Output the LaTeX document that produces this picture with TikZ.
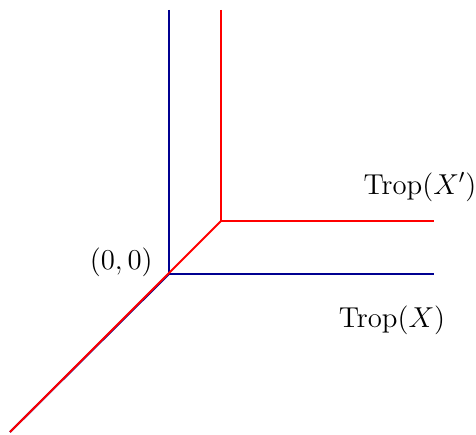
\documentclass[tikz,border=0pt]{standalone}
\usepackage{amsmath,amssymb}
\usepackage{tikz}
\usetikzlibrary{positioning,calc}

\definecolor{tropblue}{RGB}{0,0,145}
\definecolor{tropred}{RGB}{255,0,0}

\begin{document}
\begin{tikzpicture}[
  x=0.5pt, y=0.5pt,
  blu/.style={tropblue, line width=1pt},
  rd/.style={tropred, line width=1pt},
  lab/.style={inner sep=1pt, font=\fontsize{14.5}{17}\selectfont}
]
\useasboundingbox (-169,-160) rectangle (307,274);
% vertices and ends
\coordinate (o) at (0,0);
\coordinate (p) at (52,53);
\coordinate (up) at (0,264);
\coordinate (rt) at (265,0);
\coordinate (up2) at (52,264);
\coordinate (rt2) at (265,53);
\coordinate (dl) at (-159,-158);
% Trop(X)
\draw[blu] (up) -- (o) -- (rt);
\draw[blu] (o) -- (dl);
% Trop(X')
\draw[rd] (up2) -- (p) -- (rt2);
\draw[rd] (p) -- (dl);
\node[lab, anchor=east] (orig) at (-14,12) {$(0,0)$};
\node[lab] (tx2) at (251,87) {$\mathrm{Trop}(X')$};
\node[lab] (tx) at (223,-46) {$\mathrm{Trop}(X)$};
\end{tikzpicture}
\end{document}
